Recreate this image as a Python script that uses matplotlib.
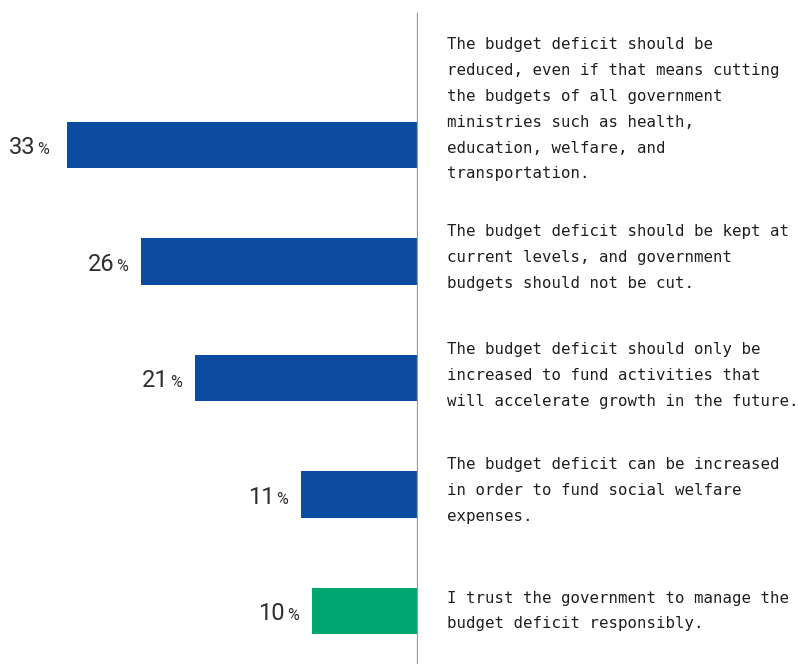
import matplotlib
matplotlib.use("Agg")
import matplotlib.pyplot as plt

# Survey responses on the budget deficit
statements = [
    "The budget deficit should be\nreduced, even if that means cutting\nthe budgets of all government\nministries such as health,\neducation, welfare, and\ntransportation.",
    "The budget deficit should be kept at\ncurrent levels, and government\nbudgets should not be cut.",
    "The budget deficit should only be\nincreased to fund activities that\nwill accelerate growth in the future.",
    "The budget deficit can be increased\nin order to fund social welfare\nexpenses.",
    "I trust the government to manage the\nbudget deficit responsibly.",
]
shares = [33, 26, 21, 11, 10]
bar_colors = ["#0B4CA1", "#0B4CA1", "#0B4CA1", "#0B4CA1", "#00A66F"]

W, H = 798, 664
fig = plt.figure(figsize=(W / 100, H / 100), dpi=100)

# axes: left edge of figure to the divider line, from y=13px to bottom
ax_right = 418
ax_top = 13
ax = fig.add_axes([0, 0, ax_right / W, (H - ax_top) / H])

ypos = list(range(len(shares)))
ax.barh(ypos, [-v for v in shares], height=0.395, color=bar_colors, zorder=2)

ax.set_xlim(-39.3, 0)
ax.set_ylim(4.455, -1.133)
ax.axvline(0, color="#9a9a9e", lw=1.6, zorder=3)

for s in ax.spines.values():
    s.set_visible(False)
ax.set_xticks([])
ax.set_yticks([])

# value labels: number plus a smaller percent sign, sharing a baseline
label_gap = [18, 13, 13, 13, 13]
num_font = dict(family="Roboto", color="#2e2e2e")
for y, v, gap in zip(ypos, shares, label_gap):
    ax.annotate("%", xy=(-v, y), xytext=(-gap, -9.5), textcoords="offset pixels",
                ha="right", va="baseline", fontsize=11.5, annotation_clip=False,
                **num_font)
    ax.annotate(str(v), xy=(-v, y), xytext=(-gap - 13.5, -9.5),
                textcoords="offset pixels", ha="right", va="baseline",
                fontsize=17, annotation_clip=False, **num_font)

# statement text to the right of the divider
text_shift = [-0.305, -0.035, -0.02, -0.035, 0.0]
for y, txt, dy in zip(ypos, statements, text_shift):
    ax.text(2.75, y + dy, txt, ha="left", va="center", fontsize=11.3,
            family="DejaVu Sans Mono", color="#1e1e1e", linespacing=1.9,
            clip_on=False)

fig.savefig("out.png", dpi=100)
